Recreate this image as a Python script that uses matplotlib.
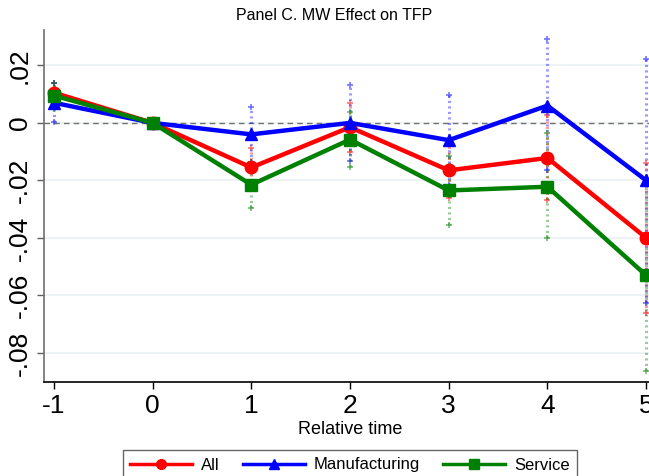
import numpy as np
import matplotlib
matplotlib.use('Agg')
import matplotlib.pyplot as plt
from matplotlib.lines import Line2D

plt.rcParams['font.family'] = ['Liberation Sans', 'DejaVu Sans']

rel_time = [-1, 0, 1, 2, 3, 4, 5]

all_coef = [0.0105, 0.0, -0.0155, -0.0015, -0.0165, -0.0122, -0.0400]
all_lo = [0.0070, 0.0, -0.0223, -0.0100, -0.0260, -0.0268, -0.0660]
all_hi = [0.0140, 0.0, -0.0087, 0.0070, -0.0070, 0.0028, -0.0139]

man_coef = [0.0070, 0.0, -0.0040, 0.0000, -0.0060, 0.0060, -0.0200]
man_lo = [0.0003, 0.0, -0.0136, -0.0132, -0.0217, -0.0163, -0.0626]
man_hi = [0.0137, 0.0, 0.0056, 0.0132, 0.0097, 0.0290, 0.0223]

ser_coef = [0.0095, 0.0, -0.0215, -0.0058, -0.0235, -0.0222, -0.0530]
ser_lo = [0.0049, 0.0, -0.0296, -0.0154, -0.0355, -0.0400, -0.0863]
ser_hi = [0.0140, 0.0, -0.0136, 0.0038, -0.0115, -0.0035, -0.0197]

yticks = [0.02, 0, -0.02, -0.04, -0.06, -0.08]
ytick_labels = ['.02', '0', '-.02', '-.04', '-.06', '-.08']

fig = plt.figure(figsize=(6.49, 4.76), dpi=100)
ax = fig.add_axes([44 / 649, 1 - 382 / 476, 612 / 649, 352 / 476])

for y in yticks:
    ax.axhline(y, color='#eaf1f3', lw=1.2, zorder=0)
ax.axhline(0, color='#707070', lw=1, ls=(0, (4, 3)), zorder=1)

series = [
    ('All', all_coef, all_lo, all_hi, '#ff0000', 'o', 9),
    ('Manufacturing', man_coef, man_lo, man_hi, '#0000ff', '^', 9),
    ('Service', ser_coef, ser_lo, ser_hi, '#008000', 's', 9),
]

# confidence bands first (faint dotted)
for name, c, lo, hi, col, mk, ms in series:
    x = np.array(rel_time)
    lo = np.array(lo)
    hi = np.array(hi)
    keep = hi != lo
    ax.vlines(x[keep], lo[keep], hi[keep], colors=col, lw=2.2,
              ls=(0, (0.7, 1.1)), alpha=0.4, zorder=2)
    ax.plot(x[keep], lo[keep], ls='none', marker='+', ms=5, mew=1.2, color=col, alpha=0.55, zorder=2)
    ax.plot(x[keep], hi[keep], ls='none', marker='+', ms=5, mew=1.2, color=col, alpha=0.55, zorder=2)

handles = []
for name, c, lo, hi, col, mk, ms in series:
    ax.plot(rel_time, c, color=col, lw=3.2, marker=mk, ms=ms, zorder=3)
    handles.append(Line2D([], [], color=col, lw=2.5, marker=mk, ms=7, label=name))

ax.set_xlim(-1.1, 5.1)
ax.set_ylim(-0.0901, 0.0323)
ax.set_xticks(rel_time)
ax.set_xticklabels([str(t) for t in rel_time], fontsize=19)
ax.set_yticks(yticks)
ax.set_yticklabels(ytick_labels, fontsize=19, rotation=90, va='center')
ax.tick_params(axis='both', direction='out', length=5, width=1, colors='black')
ax.tick_params(axis='y', pad=4, color='#606060')

ax.spines['top'].set_visible(False)
ax.spines['right'].set_visible(False)
ax.spines['left'].set_color('#707070')
ax.spines['left'].set_linewidth(1.2)
ax.spines['bottom'].set_linewidth(1.2)

ax.set_xlabel('Relative time', fontsize=13, labelpad=2)
fig.text(334 / 649, 1 - 16 / 476, 'Panel C. MW Effect on TFP', fontsize=11.5,
         ha='center', va='center')

leg = fig.legend(handles=handles, loc='upper center', ncol=3,
                 bbox_to_anchor=(350 / 649, 1 - 450 / 476), fontsize=12,
                 frameon=True, fancybox=False, edgecolor='#404040',
                 handlelength=3.7, handletextpad=0.55, columnspacing=1.4,
                 borderpad=0.45, borderaxespad=0)
leg.get_frame().set_linewidth(1)

fig.savefig('out.png', dpi=100)
